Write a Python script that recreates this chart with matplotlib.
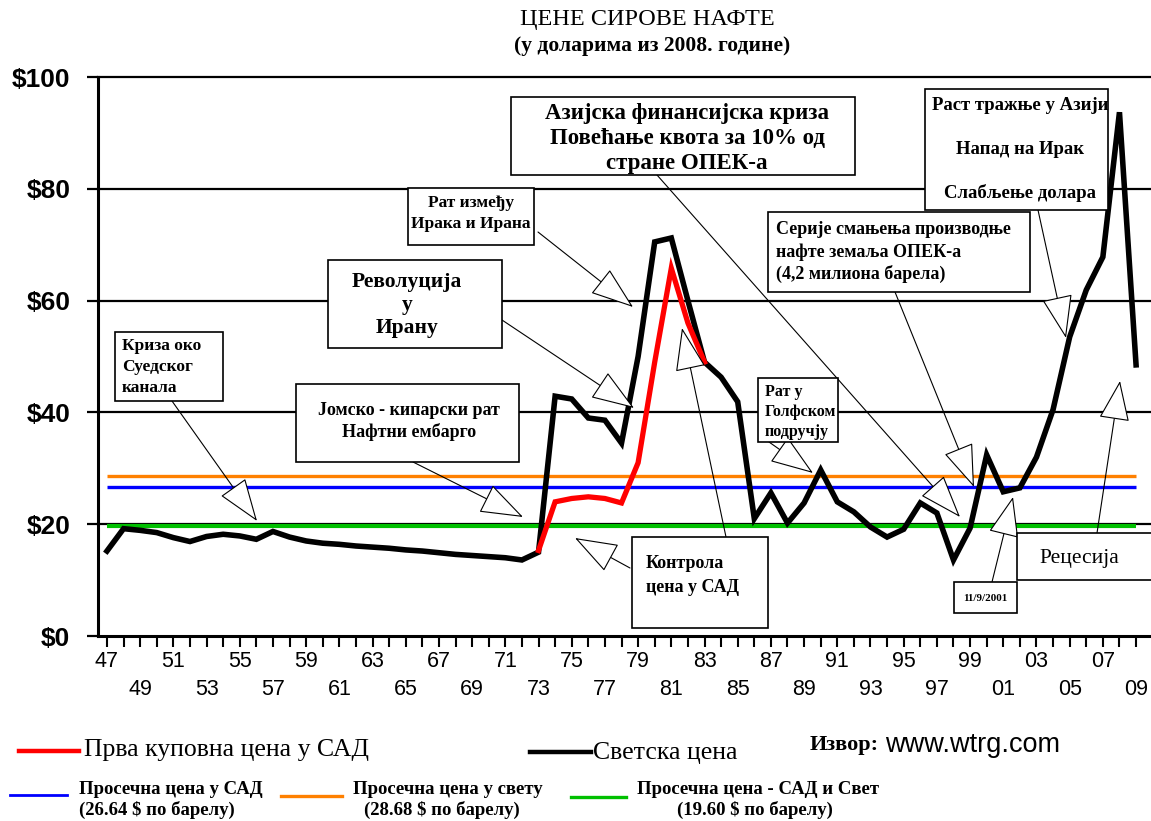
import matplotlib.pyplot as plt
from matplotlib.patches import Rectangle, FancyArrowPatch, ArrowStyle
from matplotlib.lines import Line2D

# ========================= DATA =========================
years = list(range(1947, 2010))
world_price = [15.2, 19.2, 18.9, 18.5, 17.6, 16.9, 17.8, 18.2, 17.9, 17.3,
               18.7, 17.7, 17.0, 16.6, 16.4, 16.1, 15.9, 15.7, 15.4, 15.2,
               14.9, 14.6, 14.4, 14.2, 14.0, 13.6, 15.0, 42.9, 42.4, 39.0,
               38.6, 34.5, 50.0, 70.5, 71.2, 60.0, 49.0, 46.3, 41.9, 21.0,
               25.6, 20.2, 23.8, 29.7, 24.0, 22.2, 19.5, 17.7, 19.1, 23.8,
               22.0, 13.6, 19.3, 32.4, 25.8, 26.5, 32.0, 40.5, 53.5, 61.9,
               67.8, 93.7, 48.5]
us_years = list(range(1973, 1984))
us_price = [15.3, 24.0, 24.6, 24.9, 24.6, 23.8, 31.0, 49.0, 65.8, 56.0, 49.0]

avg_us = 26.64
avg_world = 28.68
avg_both = 19.60

y_ticks = [0, 20, 40, 60, 80, 100]
y_labels = ['$0', '$20', '$40', '$60', '$80', '$100']

SERIF = 'Liberation Serif'
SANS = 'Liberation Sans'
W, H = 1151, 821

# ========================= FIGURE =========================
fig = plt.figure(figsize=(W / 100, H / 100), dpi=100)
ax = fig.add_axes([98 / W, 1 - 636 / H, 1 - 98 / W, (636 - 77) / H])


def fp(x, y):
    """reference pixel -> figure fraction"""
    return (x / W, 1 - y / H)


for v in y_ticks[1:]:
    ax.axhline(v, color='black', lw=1.6, zorder=1, clip_on=False)

ax.hlines(avg_world, years[0], years[-1], color='#ff8000', lw=2.4, zorder=2)
ax.hlines(avg_us, years[0], years[-1], color='#0000ff', lw=2.4, zorder=2)
ax.hlines(avg_both, years[0], years[-1], color='#00c000', lw=3.0, zorder=2)

ax.plot(years, world_price, color='black', lw=4.0, solid_joinstyle='miter', zorder=3)
ax.plot(us_years, us_price, color='#ff0000', lw=3.8, solid_joinstyle='miter', zorder=4)

ax.set_xlim(1946.46, 2009.9)
ax.set_ylim(0, 100)
for s in ['top', 'right']:
    ax.spines[s].set_visible(False)
ax.spines['left'].set_linewidth(2.2)
ax.spines['bottom'].set_linewidth(2.2)

ax.set_yticks(y_ticks, y_labels)
ax.tick_params(axis='y', length=8, width=1.6, pad=12, labelsize=19)
for t in ax.get_yticklabels():
    t.set_fontfamily(SANS)
    t.set_fontweight('bold')

xlabels = []
for yr in years:
    if (yr - 1947) % 4 == 0:
        xlabels.append(f'{yr % 100:02d}')
    elif (yr - 1947) % 4 == 2:
        xlabels.append('\n' + f'{yr % 100:02d}')
    else:
        xlabels.append('')
ax.set_xticks(years, xlabels)
ax.tick_params(axis='x', length=8, width=1.5, pad=3, labelsize=15.5)
for t in ax.get_xticklabels():
    t.set_fontfamily(SANS)
    t.set_linespacing(1.4)

# ========================= TITLE =========================
fig.text(*fp(647, 19), 'ЦЕНЕ СИРОВЕ НАФТЕ', ha='center', va='center',
         fontsize=17.5, family=SERIF)
fig.text(*fp(652, 46), '(у доларима из 2008. године)', ha='center', va='center',
         fontsize=15.5, fontweight='bold', family=SERIF)


# ========================= ANNOTATIONS =========================
def box(x0, y0, x1, y1, lw=1.2):
    r = Rectangle(fp(x0, y1), (x1 - x0) / W, (y1 - y0) / H, transform=fig.transFigure,
                  facecolor='white', edgecolor='black', lw=lw, zorder=5)
    fig.add_artist(r)
    return r


def label(x, y, s, size, weight='bold', ha='left', family=SERIF, clip=None):
    t = fig.text(*fp(x, y), s, ha=ha, va='center', fontsize=size, fontweight=weight,
                 family=family, zorder=6)
    if clip is not None:
        t.set_clip_path(clip)
    return t


def arrow(x0, y0, x1, y1, hl=1.4):
    a = FancyArrowPatch(fp(x0, y0), fp(x1, y1), transform=fig.transFigure,
                        arrowstyle=ArrowStyle('-|>', head_length=hl, head_width=0.5),
                        mutation_scale=20, shrinkA=0, shrinkB=0,
                        facecolor='white', edgecolor='black', lw=0.8, zorder=4)
    fig.add_artist(a)


# Suez
box(115, 332, 223, 401)
for i, s in enumerate(['Криза око', 'Суедског', 'канала']):
    label(122, 346 + i * 21, s, 12.5)
arrow(172, 401, 257, 521)

# Yom Kippur
box(296, 384, 519, 462)
label(409, 410, 'Јомско - кипарски рат', 13, ha='center')
label(409, 432, 'Нафтни ембарго', 13, ha='center')
arrow(413, 462, 523, 517)

# Iran revolution
box(328, 260, 502, 348)
for i, s in enumerate(['Револуција', 'у', 'Ирану']):
    label(407, 282 + i * 23, s, 15.5, ha='center')
arrow(502, 320, 634, 408)

# Iran-Iraq war
box(408, 188, 534, 245)
label(471, 203, 'Рат између', 12.5, ha='center')
label(471, 224, 'Ирака и Ирана', 12.5, ha='center')
arrow(538, 232, 633, 307)

# Asian crisis
box(511, 97, 855, 175)
for i, s in enumerate(['Азијска финансијска криза', 'Повећање квота за 10% од',
                       'стране ОПЕК-а']):
    label(687, 113 + i * 25, s, 16.5, ha='center')
arrow(657, 175, 960, 517)

# US price controls
box(632, 537, 768, 628)
label(646, 564, 'Контрола', 13)
label(646, 587, 'цена у САД', 13)
arrow(630, 568, 575, 538)
arrow(726, 537, 682, 328)

# Gulf war
box(758, 378, 838, 442)
for i, s in enumerate(['Рат у', 'Голфском', 'подручју']):
    label(765, 392 + i * 20, s, 11.5)
arrow(769, 442, 813, 473)

# OPEC cuts
box(768, 212, 1030, 292)
for i, s in enumerate(['Серије смањења производње', 'нафте земаља ОПЕК-а',
                       '(4,2 милиона барела)']):
    label(776, 230 + i * 22, s, 13)
arrow(895, 292, 974, 487)

# Asia demand
r = box(925, 89, 1108, 210)
for i, s in enumerate(['Раст тражње у Азији', 'Напад на Ирак', 'Слабљење долара']):
    label(1020, 105 + i * 44, s, 13.5, ha='center', clip=r)
arrow(1038, 210, 1066, 338)

# 9/11
box(954, 582, 1017, 613)
label(985, 598, '11/9/2001', 8, ha='center')
arrow(992, 582, 1013, 497, hl=1.3)

# Recession
box(1017, 533, 1165, 580)
label(1079, 558, 'Рецесија', 15.5, weight='normal', ha='center')
arrow(1097, 533, 1120, 381, hl=1.3)


# ========================= LEGEND =========================
def key(x0, x1, y, color, lw):
    fig.add_artist(Line2D([x0 / W, x1 / W], [1 - y / H, 1 - y / H],
                          transform=fig.transFigure, color=color, lw=lw))


key(19, 79, 751, '#ff0000', 3.2)
label(84, 750, 'Прва куповна цена у САД', 18.5, weight='normal')
key(530, 591, 752, 'black', 3.2)
label(593, 753, 'Светска цена', 18.5, weight='normal')
label(810, 745, 'Извор:', 16)
label(885, 745, 'www.wtrg.com', 19.5, weight='normal', family=SANS)

key(10, 67, 795, '#0000ff', 2.0)
label(79, 789, 'Просечна цена у САД', 13.5)
label(79, 810, '(26.64 $ по барелу)', 13.5)
key(281, 342, 796, '#ff8000', 2.4)
label(448, 789, 'Просечна цена у свету', 13.5, ha='center')
label(442, 810, '(28.68 $ по барелу)', 13.5, ha='center')
key(571, 626, 797, '#00c000', 2.4)
label(758, 789, 'Просечна цена - САД и Свет', 13.5, ha='center')
label(755, 810, '(19.60 $ по барелу)', 13.5, ha='center')

fig.savefig('out.png', dpi=100)
